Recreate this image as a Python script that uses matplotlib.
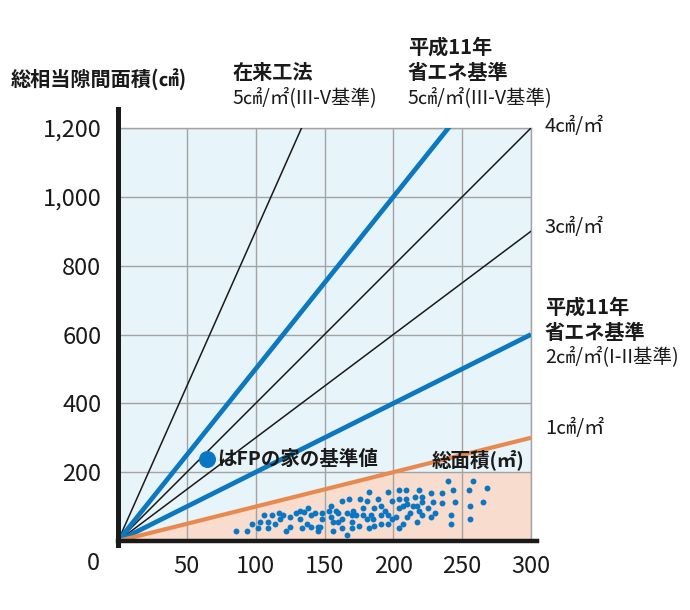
import numpy as np
import matplotlib
matplotlib.use('Agg')
import matplotlib.pyplot as plt

plt.rcParams['font.family'] = ['Noto Sans CJK JP', 'DejaVu Sans']

# C-value lines (cm2 of gap per m2 of floor): slope, colour
thin_slopes = [9, 4, 3]
bold_slopes = [5, 2]
floor_slope = 1
area_cap = 200

x_ticks = [50, 100, 150, 200, 250, 300]
y_ticks = [200, 400, 600, 800, 1000, 1200]
y_tick_labels = ['200', '400', '600', '800', '1,000', '1,200']

# FP houses: floor area (m2) vs total gap area (cm2)
fp_area = [86, 94, 97, 103, 102, 106, 109, 109, 112, 114, 117, 118, 120, 122, 125,
           125, 129, 132, 132, 135, 137, 138, 140, 140, 143, 145, 134, 148, 148, 147,
           145, 155, 153, 158, 155, 160, 163, 168, 163, 156, 160, 156, 163, 166, 166,
           170, 171, 173, 170, 170, 175, 176, 178, 178, 181, 181, 182, 184, 182, 186,
           185, 186, 189, 191, 191, 191, 194, 196, 196, 196, 199, 199, 202, 204, 204,
           204, 207, 209, 209, 207, 204, 210, 210, 212, 214, 216, 219, 221, 221, 217,
           219, 221, 217, 227, 229, 225, 230, 227, 235, 235, 240, 243, 245, 242, 242,
           258, 255, 268, 265, 256, 256]
fp_gap = [30, 30, 49, 56, 37, 76, 56, 37, 76, 49, 82, 63, 76, 30, 69,
          42, 82, 88, 63, 85, 49, 95, 76, 42, 80, 42, 37, 82, 63, 42,
          30, 102, 88, 88, 69, 82, 116, 121, 63, 56, 56, 30, 37, 17, 82,
          76, 88, 76, 56, 37, 43, 121, 95, 76, 116, 63, 143, 76, 37, 95,
          63, 43, 121, 102, 76, 49, 88, 76, 143, 49, 116, 63, 69, 147, 121,
          95, 102, 147, 121, 49, 37, 108, 69, 82, 102, 129, 148, 129, 114, 102,
          88, 76, 56, 140, 114, 95, 82, 69, 140, 110, 174, 148, 114, 76, 49,
          174, 148, 155, 114, 102, 63]

bg_blue = '#e7f4f9'
fill_pink = '#f8dccd'
line_blue = '#0b78c0'
dot_blue = '#0a77c4'
orange = '#e8894f'
grid_gray = '#a3a3a3'

fig = plt.figure(figsize=(6.9, 6.1), dpi=100)
ax = fig.add_axes([118 / 690, 69 / 610, 413 / 690, 413 / 610])
ax.set_facecolor(bg_blue)
ax.set_xlim(0, 300)
ax.set_ylim(0, 1200)

xs = np.array([0, 300])
xf = np.array([0, area_cap, 300])
ax.fill_between(xf, 0, np.minimum(xf, area_cap), color=fill_pink, lw=0, zorder=1)

for k in thin_slopes:
    ax.plot(xs, k * xs, color='#1a1a1a', lw=1.1, zorder=3)
for k in bold_slopes:
    ax.plot(xs, k * xs, color=line_blue, lw=3.4, zorder=3, solid_capstyle='butt')
ax.plot(xs, floor_slope * xs, color=orange, lw=3.0, zorder=3, solid_capstyle='butt')

ax.scatter(fp_area, fp_gap, s=18, color=dot_blue, lw=0, zorder=4)

# grid and frame
ax.set_xticks(x_ticks)
ax.set_yticks(y_ticks)
ax.set_yticklabels(y_tick_labels)
ax.grid(True, color=grid_gray, lw=1.0)
ax.set_axisbelow('line')
ax.tick_params(length=0, labelsize=17, colors='#1a1a1a')
ax.tick_params(axis='x', pad=10)
ax.tick_params(axis='y', pad=12)
for side in ['top', 'right']:
    ax.spines[side].set_color(grid_gray)
    ax.spines[side].set_linewidth(1.0)
ax.spines['left'].set_visible(False)
ax.spines['bottom'].set_visible(False)
ax.axvline(0, ymin=-0.01, ymax=1.045, color='#1a1a1a', lw=3.6, clip_on=False, zorder=5)
ax.axhline(0, xmin=0, xmax=1.015, color='#1a1a1a', lw=3.2, clip_on=False, zorder=5)
ax.text(-18, -64, '0', fontsize=17, ha='center', va='center', color='#1a1a1a')

# legend-like marker
ax.scatter([64.6], [238], s=150, color=dot_blue, lw=0, zorder=6)
ax.text(72, 238, 'はFPの家の基準値', fontsize=14, fontweight='bold',
        ha='left', va='center', color='#1a1a1a', zorder=6)
ax.text(228, 235, '総面積(㎡)', fontsize=14, fontweight='bold',
        ha='left', va='center', color='#1a1a1a', zorder=6)

# top labels
ax.text(-78, 1340, '総相当隙間面積(㎠)', fontsize=14.5, fontweight='bold',
        ha='left', va='center', color='#1a1a1a')
ax.text(83.5, 1360, '在来工法', fontsize=14.5, fontweight='bold',
        ha='left', va='center', color='#1a1a1a')
ax.text(83.5, 1287, '5㎠/㎡(III-V基準)', fontsize=14,
        ha='left', va='center', color='#1a1a1a')
ax.text(210.6, 1436, '平成11年', fontsize=14.5, fontweight='bold',
        ha='left', va='center', color='#1a1a1a')
ax.text(210.6, 1360, '省エネ基準', fontsize=14.5, fontweight='bold',
        ha='left', va='center', color='#1a1a1a')
ax.text(210.6, 1287, '5㎠/㎡(III-V基準)', fontsize=14,
        ha='left', va='center', color='#1a1a1a')

# right labels
ax.text(310, 1203, '4㎠/㎡', fontsize=14.5, ha='left', va='center', color='#1a1a1a')
ax.text(310, 912, '3㎠/㎡', fontsize=14.5, ha='left', va='center', color='#1a1a1a')
ax.text(310, 680, '平成11年', fontsize=14.5, fontweight='bold',
        ha='left', va='center', color='#1a1a1a')
ax.text(310, 607, '省エネ基準', fontsize=14.5, fontweight='bold',
        ha='left', va='center', color='#1a1a1a')
ax.text(310, 535, '2㎠/㎡(I-II基準)', fontsize=14,
        ha='left', va='center', color='#1a1a1a')
ax.text(310, 328, '1㎠/㎡', fontsize=14.5, ha='left', va='center', color='#1a1a1a')

fig.savefig('out.png', dpi=100)
